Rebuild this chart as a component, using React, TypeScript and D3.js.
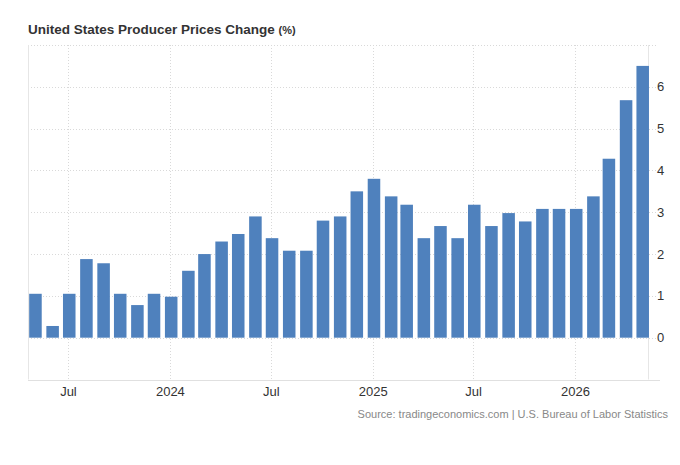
import { useEffect, useRef } from "react";
import * as d3 from "d3";

const months = [
  "2023-05", "2023-06", "2023-07", "2023-08", "2023-09", "2023-10", "2023-11", "2023-12",
  "2024-01", "2024-02", "2024-03", "2024-04", "2024-05", "2024-06", "2024-07", "2024-08",
  "2024-09", "2024-10", "2024-11", "2024-12", "2025-01", "2025-02", "2025-03", "2025-04",
  "2025-05", "2025-06", "2025-07", "2025-08", "2025-09", "2025-10", "2025-11", "2025-12",
  "2026-01", "2026-02", "2026-03", "2026-04", "2026-05",
];
const values = [
  1.05, 0.28, 1.05, 1.88, 1.78, 1.05, 0.78, 1.05,
  0.98, 1.6, 2.0, 2.3, 2.48, 2.9, 2.38, 2.08,
  2.08, 2.8, 2.9, 3.5, 3.8, 3.38, 3.18, 2.38,
  2.67, 2.38, 3.18, 2.67, 2.98, 2.78, 3.08, 3.08,
  3.08, 3.38, 4.28, 5.68, 6.5,
];
const xTickDates = ["2023-07", "2024-01", "2024-07", "2025-01", "2025-07", "2026-01"];
const xTickLabels = ["Jul", "2024", "Jul", "2025", "Jul", "2026"];
const yTicks = [0, 1, 2, 3, 4, 5, 6];
const yGrid = [0, 1, 2, 3, 4, 5, 6, 7];

const title = "United States Producer Prices Change";
const unit = "(%)";
const source = "Source: tradingeconomics.com | U.S. Bureau of Labor Statistics";

const parseMonth = d3.timeParse("%Y-%m");

export default function App() {
  const svgRef = useRef<SVGSVGElement | null>(null);

  useEffect(() => {
    if (!svgRef.current) return;
    const svg = d3.select(svgRef.current);
    svg.selectAll("*").remove();

    const W = 680;
    const H = 465;
    const left = 28;
    const right = 648;
    const top = 45;
    const bottom = 379.5;
    const font = "'Liberation Sans', Arial, sans-serif";

    const x = d3
      .scaleTime()
      .domain([new Date(2023, 3, 19), new Date(2026, 4, 12)])
      .range([left, right]);

    const y = d3.scaleLinear().domain([-1, 7]).range([bottom, top]);

    const monthPx = x(new Date(2024, 1, 1)) - x(new Date(2024, 0, 1));
    const barW = monthPx * 0.73;

    svg.attr("width", W).attr("height", H);

    // horizontal grid
    svg
      .append("g")
      .selectAll("line")
      .data(yGrid)
      .join("line")
      .attr("x1", left)
      .attr("x2", right + 8)
      .attr("y1", (d) => Math.round(y(d)) + 0.5)
      .attr("y2", (d) => Math.round(y(d)) + 0.5)
      .attr("stroke", "#d9d9d9")
      .attr("stroke-dasharray", "1,2");

    // vertical grid
    svg
      .append("g")
      .selectAll("line")
      .data(xTickDates)
      .join("line")
      .attr("x1", (d) => Math.round(x(parseMonth(d)!)) + 0.5)
      .attr("x2", (d) => Math.round(x(parseMonth(d)!)) + 0.5)
      .attr("y1", top)
      .attr("y2", bottom)
      .attr("stroke", "#d9d9d9")
      .attr("stroke-dasharray", "1,2");

    // frame lines
    svg
      .append("line")
      .attr("x1", left + 0.5)
      .attr("x2", left + 0.5)
      .attr("y1", top)
      .attr("y2", bottom)
      .attr("stroke", "#e6e6e6");
    svg
      .append("line")
      .attr("x1", right + 0.5)
      .attr("x2", right + 0.5)
      .attr("y1", top)
      .attr("y2", bottom)
      .attr("stroke", "#e6e6e6");
    svg
      .append("line")
      .attr("x1", left)
      .attr("x2", right + 12)
      .attr("y1", Math.round(bottom) + 0.5)
      .attr("y2", Math.round(bottom) + 0.5)
      .attr("stroke", "#e0e0e0");

    // bars
    svg
      .append("g")
      .selectAll("rect")
      .data(values)
      .join("rect")
      .attr("x", (_, i) => x(parseMonth(months[i])!) - barW / 2 + 0.8)
      .attr("width", barW)
      .attr("y", (d) => y(Math.max(d, 0)))
      .attr("height", (d) => Math.abs(y(d) - y(0)))
      .attr("fill", "#4f81bd");

    // y labels
    svg
      .append("g")
      .selectAll("text")
      .data(yTicks)
      .join("text")
      .attr("x", right + 9)
      .attr("y", (d) => y(d) + 4.5)
      .attr("font-family", font)
      .attr("font-size", 13)
      .attr("fill", "#333")
      .text((d) => d);

    // x labels
    svg
      .append("g")
      .selectAll("text")
      .data(xTickDates)
      .join("text")
      .attr("x", (d) => x(parseMonth(d)!))
      .attr("y", 396)
      .attr("text-anchor", "middle")
      .attr("font-family", font)
      .attr("font-size", 13)
      .attr("fill", "#333")
      .text((_, i) => xTickLabels[i]);

    // title
    const t = svg
      .append("text")
      .attr("x", left)
      .attr("y", 34)
      .attr("font-family", font)
      .attr("font-weight", "bold")
      .attr("fill", "#333");
    t.append("tspan").attr("font-size", 13.5).text(title + " ");
    t.append("tspan").attr("font-size", 11).text(unit);

    // source
    svg
      .append("text")
      .attr("x", 668)
      .attr("y", 418)
      .attr("text-anchor", "end")
      .attr("font-family", font)
      .attr("font-size", 11)
      .attr("fill", "#888")
      .text(source);
  }, []);

  return (
    <svg
      ref={svgRef}
      style={{ position: "absolute", left: 0, top: 0, background: "#fff" }}
    />
  );
}
